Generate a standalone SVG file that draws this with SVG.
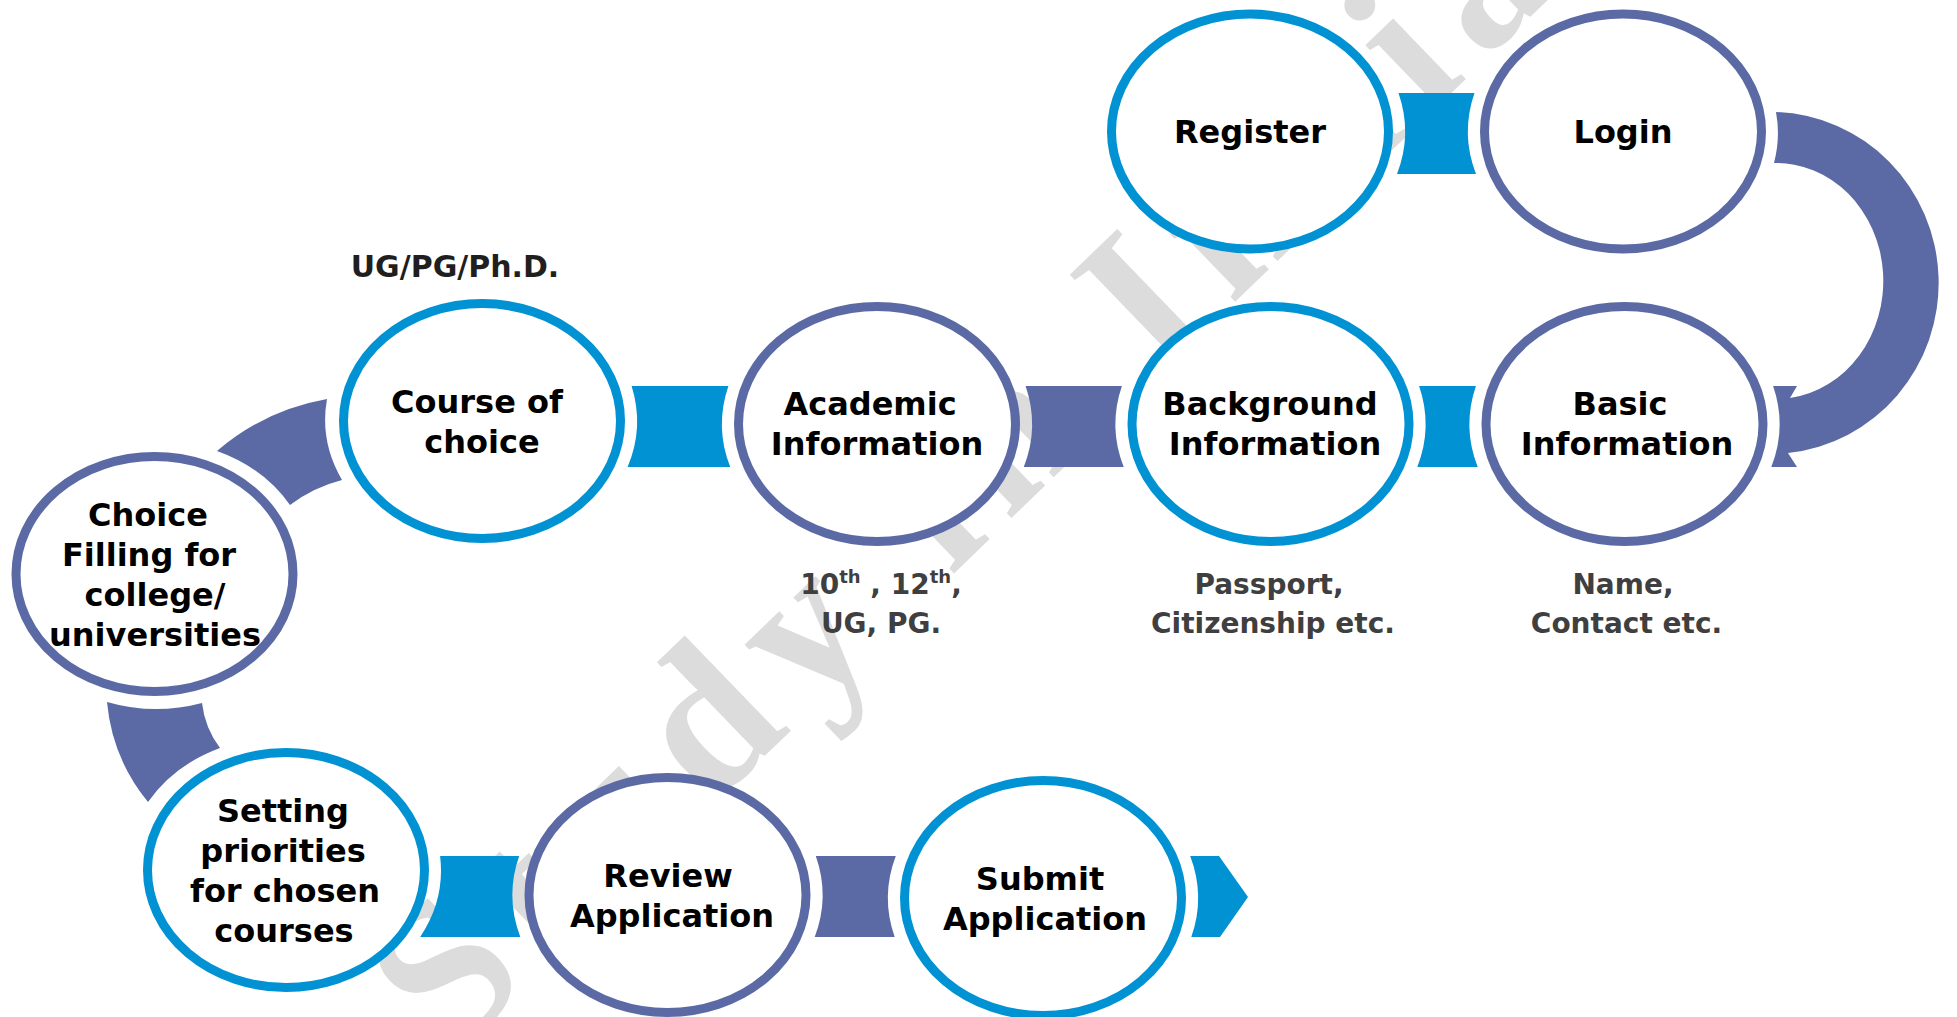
<svg xmlns="http://www.w3.org/2000/svg" width="1957" height="1017" viewBox="0 0 1957 1017">
<style>
.nb{fill:#fff;stroke:#0092D2;stroke-width:9}
.np{fill:#fff;stroke:#5B6AA5;stroke-width:9}
.cb{fill:#0092D2}
.cp{fill:#5B6AA5}
.t{font-family:"DejaVu Sans",Verdana,sans-serif;font-weight:bold;font-size:32px;fill:#000;text-anchor:middle}
.s{font-family:"DejaVu Sans",Verdana,sans-serif;font-weight:bold;font-size:28px;fill:#3F3F3F;text-anchor:middle}
.wm{font-family:"Liberation Serif","Times New Roman",serif;font-weight:bold;font-size:205px;fill:#DCDCDC;letter-spacing:22px}
</style>
<rect width="1957" height="1017" fill="#fff"/>
<text class="wm" x="450" y="1060" transform="rotate(-44 450 1060)">Study in India</text>
<g id="connectors">
<path class="cb" d="M1398.5,93 L1474.5,93 A155 134 0 0 0 1476,174 L1397,174 A155 134 0 0 0 1398.5,93 Z"/>
<path class="cp" d="M1776,112 A168 171 0 0 1 1788,453 L1797,467 L1771.3,467 A155 134 0 0 0 1773.1,386 L1797,386 L1790,398 A107 118 0 0 0 1774,163 A155 134 0 0 0 1776,112 Z"/>
<path class="cb" d="M1419.1,386 L1475.9,386 A155 134 0 0 0 1477.7,467 L1417.3,467 A155 134 0 0 0 1419.1,386 Z"/>
<path class="cp" d="M1025.6,386 L1121.9,386 A155 134 0 0 0 1123.7,467 L1023.8,467 A155 134 0 0 0 1025.6,386 Z"/>
<path class="cb" d="M631.6,386 L728.4,386 A155 134 0 0 0 730.2,467 L627.6,467 A155 134 0 0 0 631.6,386 Z"/>
<path class="cp" d="M327,399 A230 230 0 0 0 217,451 A155 134 0 0 1 290,505 A146 146 0 0 1 342,480 A155 134 0 0 1 327,399 Z"/>
<path class="cp" d="M107,702 A155 134 0 0 0 202,703 A92 92 0 0 0 220,748 A155 134 0 0 0 148,802 A184 184 0 0 1 107,702 Z"/>
<path class="cb" d="M440.1,856 L519.2,856 A155 134 0 0 0 520.3,937 L420.2,937 A155 134 0 0 0 440.1,856 Z"/>
<path class="cp" d="M815.8,856 L895.8,856 A155 134 0 0 0 894.7,937 L814.7,937 A155 134 0 0 0 815.8,856 Z"/>
<path class="cb" d="M1190.2,856 L1219,856 L1248,897 L1220,937 L1191.3,937 A155 134 0 0 0 1190.2,856 Z"/>
</g>
<g id="register">
<ellipse class="nb" cx="1250" cy="131.5" rx="138.5" ry="117.5"/>
<text class="t" x="1250" y="143">Register</text>
</g>
<g id="login">
<ellipse class="np" cx="1623" cy="131.5" rx="138.5" ry="117.5"/>
<text class="t" x="1623" y="143">Login</text>
</g>
<g id="basic-information">
<ellipse class="np" cx="1624.5" cy="424" rx="138.5" ry="117.5"/>
<text class="t" x="1620" y="415">Basic</text>
<text class="t" x="1627" y="455">Information</text>
<text class="s" x="1623" y="594">Name,</text>
<text class="s" x="1626.5" y="633">Contact etc.</text>
</g>
<g id="background-information">
<ellipse class="nb" cx="1270.5" cy="424" rx="138.5" ry="117.5"/>
<text class="t" x="1270" y="415">Background</text>
<text class="t" x="1275" y="455">Information</text>
<text class="s" x="1269" y="594">Passport,</text>
<text class="s" x="1273" y="633">Citizenship etc.</text>
</g>
<g id="academic-information">
<ellipse class="np" cx="877" cy="424" rx="138.5" ry="117.5"/>
<text class="t" x="870" y="415">Academic</text>
<text class="t" x="877" y="455">Information</text>
<text class="s" x="881" y="594">10<tspan font-size="18" dy="-11">th</tspan><tspan dy="11"> , 12</tspan><tspan font-size="18" dy="-11">th</tspan><tspan dy="11">,</tspan></text>
<text class="s" x="881" y="633">UG, PG.</text>
</g>
<g id="course-of-choice">
<ellipse class="nb" cx="482" cy="421" rx="138.5" ry="117.5"/>
<text class="t" x="477" y="412.5">Course of</text>
<text class="t" x="482" y="452.5">choice</text>
<text class="s" x="455" y="277" style="font-size:30px;fill:#1F1F1F">UG/PG/Ph.D.</text>
</g>
<g id="choice-filling">
<ellipse class="np" cx="154.5" cy="574" rx="138.5" ry="117.5"/>
<text class="t" x="148" y="525.5">Choice</text>
<text class="t" x="149" y="565.5">Filling for</text>
<text class="t" x="155" y="605.5">college/</text>
<text class="t" x="155" y="645.5">universities</text>
</g>
<g id="setting-priorities">
<ellipse class="nb" cx="286" cy="870" rx="138.5" ry="117.5"/>
<text class="t" x="283" y="821.5">Setting</text>
<text class="t" x="283" y="861.5">priorities</text>
<text class="t" x="285" y="901.5">for chosen</text>
<text class="t" x="284" y="941.5">courses</text>
</g>
<g id="review-application">
<ellipse class="np" cx="667.5" cy="895" rx="138.5" ry="117.5"/>
<text class="t" x="668" y="886.5">Review</text>
<text class="t" x="672" y="926.5">Application</text>
</g>
<g id="submit-application">
<ellipse class="nb" cx="1043" cy="898" rx="138.5" ry="117.5"/>
<text class="t" x="1040" y="889.5">Submit</text>
<text class="t" x="1045" y="929.5">Application</text>
</g>
</svg>
